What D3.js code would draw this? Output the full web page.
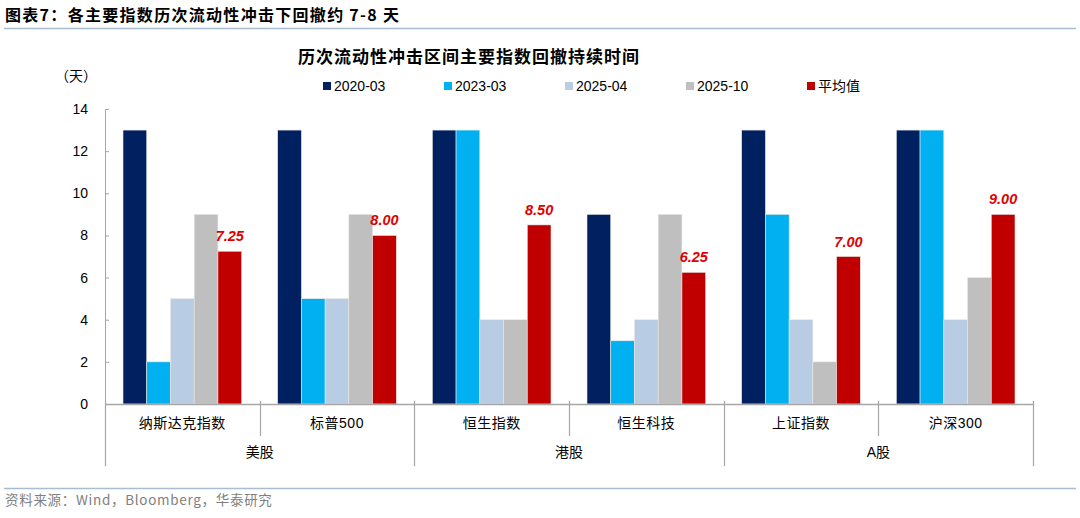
<!DOCTYPE html>
<html>
<head>
<meta charset="utf-8">
<script src="https://cdn.jsdelivr.net/npm/d3@7"></script>
<style>
  body { margin: 0; background: #fff; }
  text { font-family: "Liberation Sans", Arial, "Noto Sans CJK SC", sans-serif; }
  .cjk { font-family: "Noto Sans CJK SC", sans-serif; }
</style>
</head>
<body>
<script>
// data
var categories = ["纳斯达克指数", "标普500", "恒生指数", "恒生科技", "上证指数", "沪深300"];
var groups = ["美股", "港股", "A股"];
var groupSpan = [2, 2, 2];
var seriesNames = ["2020-03", "2023-03", "2025-04", "2025-10", "平均值"];
var s2020_03 = [13, 13, 13, 9, 13, 13];
var s2023_03 = [2, 5, 13, 3, 9, 13];
var s2025_04 = [5, 5, 4, 4, 4, 4];
var s2025_10 = [9, 9, 4, 9, 2, 6];
var sAvg = [7.25, 8.00, 8.50, 6.25, 7.00, 9.00];
var yTicks = [0, 2, 4, 6, 8, 10, 12, 14];

var colors = ["#002060", "#00b0f0", "#b8cce4", "#bfbfbf", "#c00000"];
var allSeries = [s2020_03, s2023_03, s2025_04, s2025_10, sAvg];

var W = 1080, H = 518;
var svg = d3.select("body").append("svg")
            .attr("width", W)
            .attr("height", H);

// header
svg.append("text")
   .attr("class", "cjk")
   .attr("x", 5).attr("y", 21)
   .attr("font-size", 16).attr("font-weight", "bold")
   .attr("letter-spacing", 1.3)
   .attr("fill", "#000")
   .text("图表7：各主要指数历次流动性冲击下回撤约 7-8 天");
svg.append("line")
   .attr("x1", 4).attr("x2", W - 4).attr("y1", 28.5).attr("y2", 28.5)
   .attr("stroke", "#a9bdd0").attr("stroke-width", 1.5);

svg.append("line")
   .attr("x1", 4).attr("x2", W - 4).attr("y1", 488.5).attr("y2", 488.5)
   .attr("stroke", "#a9bdd0").attr("stroke-width", 1.5);
svg.append("text")
   .attr("class", "cjk")
   .attr("x", 5).attr("y", 505)
   .attr("font-size", 13.5).attr("fill", "#7f7f7f")
   .attr("letter-spacing", 0.7)
   .text("资料来源：Wind，Bloomberg，华泰研究");

// chart title
svg.append("text")
   .attr("class", "cjk")
   .attr("x", 469).attr("y", 63)
   .attr("text-anchor", "middle")
   .attr("font-size", 17).attr("font-weight", "bold")
   .attr("letter-spacing", 1)
   .text("历次流动性冲击区间主要指数回撤持续时间");

svg.append("text")
   .attr("class", "cjk")
   .attr("x", 76).attr("y", 81)
   .attr("text-anchor", "middle")
   .attr("font-size", 14)
   .text("（天）");

// legend
var legend = svg.selectAll("g.legend")
                .data(seriesNames)
                .enter()
                .append("g")
                .attr("class", "legend")
                .attr("transform", function(d, i) { return "translate(" + (323 + i * 121) + ",86)"; });
legend.append("rect")
      .attr("x", 0).attr("y", -4).attr("width", 8).attr("height", 8)
      .attr("fill", function(d, i) { return colors[i]; });
legend.append("text")
      .attr("x", 11).attr("y", 5)
      .attr("font-size", 14)
      .text(function(d) { return d; });

// scales
var plotLeft = 105, plotRight = 1033, plotTop = 109, plotBottom = 404;
var x = d3.scaleBand().domain(categories).range([plotLeft, plotRight]);
var xi = d3.scaleBand().domain(seriesNames).range([18, x.bandwidth() - 18]);
var y = d3.scaleLinear().domain([0, 14]).range([plotBottom, plotTop]);

// bars
var cat = svg.selectAll("g.cat")
             .data(categories)
             .enter()
             .append("g")
             .attr("class", "cat")
             .attr("transform", function(d) { return "translate(" + x(d) + ",0)"; });

cat.selectAll("rect")
   .data(function(d, ci) { return seriesNames.map(function(s, si) { return {s: s, si: si, v: allSeries[si][ci]}; }); })
   .enter()
   .append("rect")
   .attr("x", function(d) { return xi(d.s); })
   .attr("width", xi.bandwidth())
   .attr("y", function(d) { return y(d.v); })
   .attr("height", function(d) { return y(0) - y(d.v); })
   .attr("fill", function(d) { return colors[d.si]; })
   .attr("stroke", "#e8e8e8")
   .attr("stroke-width", 0.6);

// average labels
cat.append("text")
   .attr("x", xi("平均值") + xi.bandwidth() / 2)
   .attr("y", function(d, i) { return y(sAvg[i]) - 10; })
   .attr("text-anchor", "middle")
   .attr("font-size", 14.5)
   .attr("font-weight", "bold")
   .attr("font-style", "italic")
   .attr("fill", "#e00000")
   .text(function(d, i) { return sAvg[i].toFixed(2); });

// y axis
var yAxis = d3.axisLeft(y).tickValues(yTicks).tickSizeInner(-4).tickSizeOuter(0).tickPadding(17);
var gy = svg.append("g").attr("transform", "translate(" + plotLeft + ",0)").call(yAxis);
gy.selectAll("path, line").attr("stroke", "#a6a6a6");
gy.selectAll("text").attr("font-size", 14).attr("fill", "#000")
  .attr("font-family", "'Liberation Sans', Arial, sans-serif");

// x axis line
svg.append("line")
   .attr("x1", plotLeft).attr("x2", plotRight).attr("y1", plotBottom + 0.5).attr("y2", plotBottom + 0.5)
   .attr("stroke", "#a6a6a6").attr("stroke-width", 1.5);

// category dividers and labels
var edges = categories.map(function(d) { return x(d); }).concat([plotRight]);
var groupEdges = [0];
groupSpan.forEach(function(n, i) { groupEdges.push(groupEdges[i] + n); });

svg.selectAll("line.div")
   .data(edges)
   .enter()
   .append("line")
   .attr("class", "div")
   .attr("x1", function(d) { return Math.round(d) + 0.5; })
   .attr("x2", function(d) { return Math.round(d) + 0.5; })
   .attr("y1", 401)
   .attr("y2", function(d, i) { return groupEdges.indexOf(i) >= 0 ? 466 : 436; })
   .attr("stroke", "#a6a6a6").attr("stroke-width", 1.2);

svg.selectAll("text.catlab")
   .data(categories)
   .enter()
   .append("text")
   .attr("class", "catlab")
   .attr("x", function(d) { return x(d) + x.bandwidth() / 2; })
   .attr("y", 428)
   .attr("text-anchor", "middle")
   .attr("font-size", 14)
   .attr("letter-spacing", 0.5)
   .text(function(d) { return d; });

svg.selectAll("text.grplab")
   .data(groups)
   .enter()
   .append("text")
   .attr("class", "grplab")
   .attr("x", function(d, i) { return (edges[groupEdges[i]] + edges[groupEdges[i + 1]]) / 2; })
   .attr("y", 457)
   .attr("text-anchor", "middle")
   .attr("font-size", 14)
   .text(function(d) { return d; });
</script>
</body>
</html>
